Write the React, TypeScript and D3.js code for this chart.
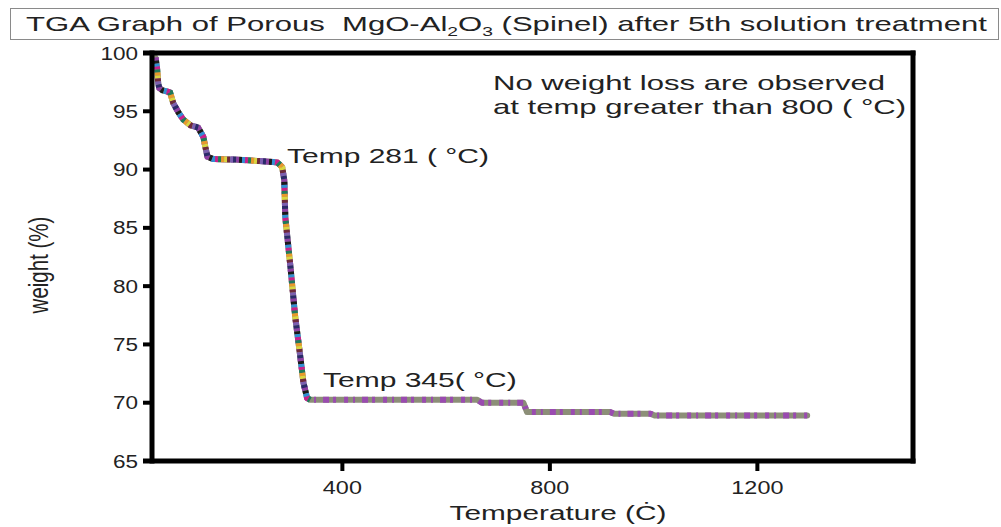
import React from "react";
import * as d3 from "d3";

const temperature = [40, 43, 45, 47, 53, 62, 68, 74, 84, 93, 107, 122, 132, 136, 140, 151, 200, 267, 275, 284, 288, 290, 300, 309, 319, 325, 332, 338, 660, 669, 749, 756, 916, 924, 994, 1002, 1296];
const weight = [99.6, 98.6, 97.4, 97.0, 96.8, 96.7, 96.6, 95.7, 94.9, 94.3, 93.8, 93.6, 92.8, 91.9, 91.1, 90.9, 90.85, 90.65, 90.6, 90.2, 89.1, 85.9, 81.6, 77.4, 73.9, 71.7, 70.4, 70.25, 70.25, 70.0, 70.0, 69.2, 69.2, 69.05, 69.05, 68.9, 68.9];
const xTicks = [400, 800, 1200];
const yTicks = [65, 70, 75, 80, 85, 90, 95, 100];
const markerColors = ["#8e3fa2", "#1a1a1a", "#2f8fd4", "#c8208a", "#1f7a5a", "#e89a2a", "#d9d640", "#6e2a3a", "#7b5fb0", "#2a2a6a"];

const FONT = "'Liberation Sans', Arial, sans-serif";
const SX = 1.45; // horizontal stretch of the reference's lettering

export default function App() {
  const W = 1001, H = 527;
  const x = d3.scaleLinear().domain([33, 1500]).range([152, 913]);
  const y = d3.scaleLinear().domain([65, 100]).range([461, 53]);
  const pts = temperature.map((t, i) => [t, weight[i]] as [number, number]);
  const line = d3.line<[number, number]>().x(d => x(d[0])).y(d => y(d[1]));
  const fullPath = line(pts) || "";
  const steepPath = line(pts.filter(p => p[0] <= 345)) || "";
  const d = 3;
  const P = d * markerColors.length;

  const St = ({ tx, ty, anchor = "start", size, children, sx = SX }: any) => (
    <g transform={`translate(${tx},${ty}) scale(${sx},1)`}>
      <text x={0} y={0} textAnchor={anchor} fontSize={size} fill="#222" style={{ whiteSpace: "pre" }}>{children}</text>
    </g>
  );

  return (
    <svg width={W} height={H} style={{ position: "absolute", left: 0, top: 0, background: "#fff" }} fontFamily={FONT}>
      <rect x={0} y={0} width={W} height={H} fill="#fff" />
      {/* Title box */}
      <rect x={10.5} y={8.5} width={988} height={31} fill="#fff" stroke="#8a8a8a" strokeWidth={1} />
      <St tx={26} ty={31} size={21} sx={1.48}>
        {"TGA Graph of Porous  MgO-Al"}
        <tspan fontSize={13} dy={5}>2</tspan>
        <tspan dy={-5}>O</tspan>
        <tspan fontSize={13} dy={5}>3</tspan>
        <tspan dy={-5}>{" (Spinel) after 5th solution treatment"}</tspan>
      </St>

      {/* data curve */}
      <path d={fullPath} fill="none" stroke="#8c8f78" strokeWidth={6} strokeLinejoin="round" strokeLinecap="round" />
      <path d={fullPath} fill="none" stroke="#9a4bb0" strokeWidth={6} strokeDasharray="4 5 2 7 6 4 3 8" strokeLinejoin="round" />
      {markerColors.map((c, i) => (
        <path key={c} d={steepPath} fill="none" stroke={c} strokeWidth={6}
          strokeDasharray={`${d} ${P - d}`} strokeDashoffset={-i * d} />
      ))}

      {/* Frame */}
      <g stroke="#000" strokeWidth={5} fill="none">
        <line x1={x.range()[0]} x2={x.range()[0]} y1={y.range()[1] - 2.5} y2={y.range()[0] + 2.5} />
        <line x1={x.range()[1]} x2={x.range()[1]} y1={y.range()[1] - 2.5} y2={y.range()[0] + 2.5} />
        <line x1={x.range()[0] - 9} x2={x.range()[1] + 2.5} y1={y.range()[1]} y2={y.range()[1]} />
        <line x1={x.range()[0] - 9} x2={x.range()[1] + 2.5} y1={y.range()[0]} y2={y.range()[0]} />
      </g>
      {/* Y ticks */}
      {yTicks.map(t => (
        <g key={t}>
          <line x1={143} x2={152} y1={y(t)} y2={y(t)} stroke="#000" strokeWidth={4} />
          <St tx={138} ty={y(t) + 6.5} anchor="end" size={18} sx={1.25}>{t}</St>
        </g>
      ))}
      {/* X ticks */}
      {xTicks.map(t => (
        <g key={t}>
          <line x1={x(t)} x2={x(t)} y1={461} y2={471} stroke="#000" strokeWidth={4} />
          <St tx={x(t)} ty={494} anchor="middle" size={18} sx={1.3}>{t}</St>
        </g>
      ))}
      {/* Axis titles */}
      <g transform="translate(48,265) scale(1.35,1) rotate(-90)">
        <text x={0} y={0} textAnchor="middle" fontSize={20.5} fill="#222">weight (%)</text>
      </g>
      <St tx={558} ty={520} anchor="middle" size={21} sx={1.42}>Temperature (Ċ)</St>

      {/* Annotations */}
      <St tx={287} ty={163} size={20} sx={1.5}>Temp 281 ( °C)</St>
      <St tx={323} ty={387} size={20} sx={1.5}>Temp 345( °C)</St>
      <St tx={493} ty={90} size={21} sx={1.48}>No weight loss are observed</St>
      <St tx={493} ty={114} size={21} sx={1.48}>at temp greater than 800 ( °C)</St>
    </svg>
  );
}
